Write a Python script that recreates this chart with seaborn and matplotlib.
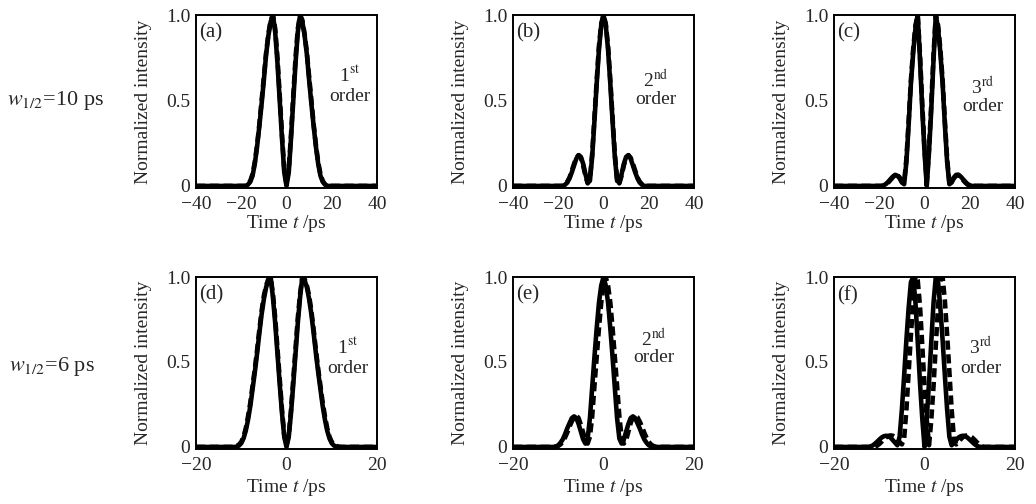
import numpy as np
import pandas as pd
import matplotlib
matplotlib.use("Agg")
import matplotlib.pyplot as plt
import seaborn as sns

# ── data ──────────────────────────────────────────────────────────────────────

# time grids, ps (outer points close the flat baseline)
T_W10 = np.r_[-40, np.arange(-22, 23), 40]
T_W6 = np.r_[-20, np.arange(-13, 13.5, 0.5), 20]

# w1/2 = 10 ps
A_SOLID = [0,
           0, 0, 0, 0, 0, .008, .025, .06, .13, .23, .35, .48, .62, .77, .88, .96, 1.0, .9, .72, .5, .28, .08,
           0,
           .08, .28, .5, .72, .9, 1.0, .96, .88, .77, .62, .48, .35, .23, .13, .06, .025, .008, 0, 0, 0, 0, 0,
           0]
A_DASH = [0,
          0, 0, 0, 0, 0, .01, .03, .07, .14, .24, .36, .5, .64, .78, .89, .97, 1.0, .92, .75, .53, .3, .1,
          .01,
          .1, .3, .53, .75, .92, 1.0, .97, .89, .78, .64, .5, .36, .24, .14, .07, .03, .01, 0, 0, 0, 0, 0,
          0]
B_SOLID = [0,
           0, 0, 0, 0, 0, .007, .02, .045, .08, .12, .16, .18, .17, .13, .07, .02, .03, .17, .38, .6, .8, .94,
           1.0,
           .94, .8, .6, .38, .17, .03, .02, .07, .13, .17, .18, .16, .12, .08, .045, .02, .007, 0, 0, 0, 0, 0,
           0]
B_DASH = [0,
          0, 0, 0, 0, 0, .01, .025, .05, .09, .13, .165, .18, .165, .12, .06, .015, .04, .19, .4, .62, .82, .95,
          1.0,
          .95, .82, .62, .4, .19, .04, .015, .06, .12, .165, .18, .165, .13, .09, .05, .025, .01, 0, 0, 0, 0, 0,
          0]
C_SOLID = [0,
           0, 0, 0, 0, .004, .012, .025, .04, .055, .065, .06, .045, .02, .01, .14, .36, .6, .78, .92, 1.0, .74, .45, .2,
           0, .2, .45, .74, 1.0, .92, .78, .6, .36, .14, .01, .02, .045, .06, .065, .055, .04, .025, .012, .004, 0, 0,
           0]
C_DASH = [0,
          0, 0, 0, 0, 0, .008, .02, .035, .05, .065, .065, .05, .025, .02, .16, .38, .62, .8, .94, 1.0, .77, .48, .22,
          .02, .22, .48, .77, 1.0, .94, .8, .62, .38, .16, .02, .025, .05, .065, .065, .05, .035, .02, .008, 0, 0, 0,
          0]

# w1/2 = 6 ps
D_SOLID = [0,
           0, 0, 0, 0, .002, .008, .022, .05, .095, .16, .24, .34, .44, .55, .67, .78, .87, .94, .98, 1.0, .88, .73, .55, .37, .2, .06,
           0,
           .06, .2, .37, .55, .73, .88, 1.0, .98, .94, .87, .78, .67, .55, .44, .34, .24, .16, .095, .05, .022, .008, .002, 0, 0, 0, 0,
           0]
D_DASH = [0,
          0, 0, 0, .002, .006, .014, .03, .06, .11, .18, .26, .36, .46, .57, .69, .8, .89, .95, .99, 1.0, .9, .76, .58, .4, .22, .07,
          .01,
          .07, .22, .4, .58, .76, .9, 1.0, .99, .95, .89, .8, .69, .57, .46, .36, .26, .18, .11, .06, .03, .014, .006, .002, 0, 0, 0,
          0]
E_SOLID = [0,
           0, 0, 0, 0, 0, .003, .01, .025, .045, .075, .11, .14, .17, .18, .17, .135, .09, .045, .02, .05, .17, .35, .53, .7, .85, .95,
           1.0,
           .95, .85, .7, .53, .35, .17, .05, .02, .045, .09, .135, .17, .18, .17, .14, .11, .075, .045, .025, .01, .003, 0, 0, 0, 0, 0,
           0]
E_DASH = [0,
          0, 0, 0, 0, 0, .002, .006, .015, .03, .055, .085, .12, .15, .175, .185, .17, .13, .085, .04, .02, .06, .18, .36, .53, .7, .85, .95,
          1.0,
          .95, .85, .7, .53, .36, .18, .06, .02, .04, .09, .14, .175, .185, .175, .15, .12, .085, .055, .03, .015, .006, .002, 0, 0, 0,
          0]
F_SOLID = [0,
           0, 0, .002, .008, .018, .03, .043, .055, .063, .066, .063, .055, .04, .025, .01, .06, .22, .42, .63, .82, .97, 1.0, .85, .62, .38, .17,
           0,
           .17, .38, .62, .85, 1.0, .97, .82, .63, .42, .22, .06, .01, .025, .04, .055, .063, .066, .063, .055, .043, .03, .018, .008, .002, 0, 0,
           0]
F_DASH = [0,
          0, 0, 0, 0, 0, .007, .017, .03, .044, .056, .065, .068, .066, .058, .045, .03, .015, .05, .22, .44, .66, .86, 1.0, .98, .83, .6, .36,
          .16, .01, .16, .36, .6, .83, .98, 1.0, .86, .66, .44, .22, .05, .015, .03, .045, .058, .066, .068, .065, .056, .044, .03, .017, .007, 0,
          0]

PANEL_TAGS = ["(a)", "(b)", "(c)", "(d)", "(e)", "(f)"]
ORDERS = [("1", "st"), ("2", "nd"), ("3", "rd"), ("1", "st"), ("2", "nd"), ("3", "rd")]
ROW_LABELS = [r"$w_{1/2}$=10 ps", r"$w_{1/2}$=6 ps"]
XTICKS_W10 = [-40, -20, 0, 20, 40]
XTICKS_W6 = [-20, 0, 20]
YTICKS = [0, 0.5, 1.0]
YTICKLABELS = ["0", "0.5", "1.0"]

# ── style ─────────────────────────────────────────────────────────────────────

sns.set_style("white")
plt.rcParams["font.family"] = ["Liberation Serif", "DejaVu Serif"]
plt.rcParams["mathtext.fontset"] = "stix"
plt.rcParams["axes.edgecolor"] = "black"
plt.rcParams["axes.linewidth"] = 1.4

FS = 14

fig = plt.figure(figsize=(10.36, 5.04), dpi=100)

lefts = [196 / 1036, 513 / 1036, 834 / 1036]
width = 181 / 1036
rows = [(1 - 188 / 504, 173 / 504), (1 - 449 / 504, 172 / 504)]

curves = [
    (T_W10, A_SOLID, A_DASH), (T_W10, B_SOLID, B_DASH), (T_W10, C_SOLID, C_DASH),
    (T_W6, D_SOLID, D_DASH), (T_W6, E_SOLID, E_DASH), (T_W6, F_SOLID, F_DASH),
]
# label spots (axes fraction) for the "n-th / order" notes
order_xy = [(.85, .65, .53), (.79, .62, .51), (.82, .58, .47),
            (.84, .59, .47), (.78, .64, .53), (.81, .59, .47)]

for k, (t, ys, yd) in enumerate(curves):
    r, c = divmod(k, 3)
    bottom, height = rows[r]
    ax = fig.add_axes([lefts[c], bottom, width, height])

    df = pd.concat([
        pd.DataFrame({"t": t, "I": ys, "curve": "solid"}),
        pd.DataFrame({"t": t, "I": yd, "curve": "dashed"}),
    ], ignore_index=True)
    sns.lineplot(data=df, x="t", y="I", style="curve",
                 dashes={"solid": "", "dashed": (2.0, 1.0)},
                 color="black", linewidth=3.3, estimator=None, sort=False,
                 legend=False, ax=ax)

    lim = 40 if r == 0 else 20
    ax.set_xlim(-lim, lim)
    ax.set_ylim(-0.012, 1.0)
    ax.set_xticks(XTICKS_W10 if r == 0 else XTICKS_W6)
    ax.set_yticks(YTICKS)
    ax.set_yticklabels(YTICKLABELS)
    ax.tick_params(axis="y", direction="in", length=9, width=1.4, pad=4, labelsize=FS)
    ax.tick_params(axis="x", length=0, pad=6, labelsize=FS)
    for sp in ax.spines.values():
        sp.set_visible(True)
        sp.set_color("black")
        sp.set_linewidth(1.4)

    ax.set_xlabel("Time $t$ /ps", fontsize=FS, labelpad=0 if r == 0 else 2)
    ax.set_ylabel("Normalized intensity", fontsize=FS, labelpad=10)

    ax.text(0.02, 0.95, PANEL_TAGS[k], transform=ax.transAxes,
            ha="left", va="top", fontsize=15)
    num, suf = ORDERS[k]
    ox, oy1, oy2 = order_xy[k]
    ax.text(ox, oy1, num + r"$^{\mathrm{" + suf + "}}$", transform=ax.transAxes,
            ha="center", va="center", fontsize=FS)
    ax.text(ox, oy2, "order", transform=ax.transAxes,
            ha="center", va="center", fontsize=FS)

fig.text(7 / 1036, 1 - 101 / 504, ROW_LABELS[0], ha="left", va="center", fontsize=16)
fig.text(9 / 1036, 1 - 366 / 504, ROW_LABELS[1], ha="left", va="center", fontsize=16)

fig.savefig("out.png", dpi=100)
